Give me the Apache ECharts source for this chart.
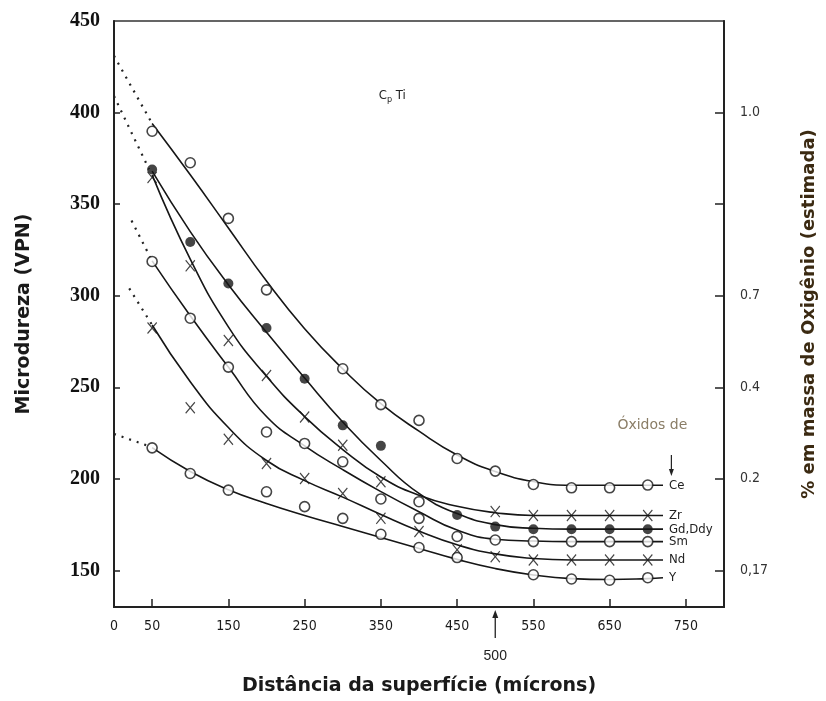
<!DOCTYPE html>
<html><head><meta charset="utf-8">
<script src="https://cdn.jsdelivr.net/npm/echarts@6/dist/echarts.min.js"></script>
<style>html,body{margin:0;padding:0;background:#fff}#c{width:826px;height:701px}</style>
</head><body><div id="c"></div>
<script>
// ---------- data ----------
const pointX = [50,100,150,200,250,300,350,400,450,500,550,600,650,700];
const curveX = [50,100,150,200,250,300,350,400,450,500,550,600,650,700,720];

const cePts = [389.8,372.6,342.2,303.2,null,260.1,240.5,231.9,211.1,204.2,196.9,195.1,195.1,196.6];
const gdPts = [368.9,329.3,306.7,282.4,254.6,229.2,218.0,null,180.2,173.9,172.5,172.5,172.5,172.5];
const zrPts = [364.6,316.3,275.5,256.4,233.8,218.3,198.4,null,null,182.1,180,180,180,180];
const smPts = [318.7,287.7,261.0,225.6,219.3,209.3,189.0,178.4,168.5,166.6,165.7,165.7,165.7,165.7];
const smExtra = [[400,187.5]];
const ndPts = [282.4,238.8,221.6,208.4,200.2,192.0,178.4,171.2,161.2,157.5,155.7,155.7,155.7,155.7];
const yPts  = [216.9,202.9,193.8,192.9,184.8,178.4,169.7,162.5,157.0,null,147.6,145.3,144.6,146.0];

const ceCurve = [394,366,337,308,282,260,241,226,213,204,198.5,196.5,196.5,196.5,196.5];
const gdCurve = [368,335,306,280,255,231,210,192,181,175,173,172.5,172.5,172.5,172.5];
const zrCurve = [366,320,283,256,234,216,201,191,185,181.5,180,180,180,180,180];
const smCurve = [319,289,261,234,218,205,193,182,172,167,166,165.7,165.7,165.7,165.7];
const ndCurve = [284,253,228,210,199,190,180.5,171.5,164,159,156.5,155.7,155.7,155.7,155.7];
const yCurve  = [217,204,194,186.5,180,174,168,162,156,151,147.5,145.5,145,145.5,146];

const ceLead = [[0,431],[50,394]];
const gdLead = [[0,409],[46,369]];
const smLead = [[23,341],[50,319]];
const ndLead = [[20,304],[50,284]];
const yLead  = [[0,224.5],[45,218]];

const seriesNames = ['Ce','Zr','Gd,Ddy','Sm','Nd','Y'];
const xLabelValues = [0,50,150,250,350,450,550,650,750];
const xTickValues = [50,150,250,350,450,550,650,750];
const yLabelValues = [150,200,250,300,350,400,450];
const yTickValues = [150,200,250,300,350,400];
const rightTickValues = [150,200,250,300,350,400];
const rightTickLabels = ['0,17','0.2','0.4','0.7','','1.0'];
const markedDistance = 500;

// ---------- build ----------
const narrow = "'Liberation Sans Narrow','DejaVu Sans Condensed','Liberation Sans',sans-serif";
const ink = '#161616';
const pairs = (xs, ys) => xs.map((x,i)=>[x, ys[i]]).filter(p=>p[1]!=null);
const xSym = 'path://M0,0.8 L0.8,0 L5,4.2 L9.2,0 L10,0.8 L5.8,5 L10,9.2 L9.2,10 L5,5.8 L0.8,10 L0,9.2 L4.2,5 Z';

function curve(name, ys){
  return {type:'line', name, data:pairs(curveX, ys), smooth:0.5, symbol:'none',
    lineStyle:{color:ink, width:1.6}, z:2, silent:true,
    endLabel:{show:true, formatter:p=>p.seriesName, distance:6, color:'#222', fontSize:13, fontFamily:narrow}};
}
function lead(data){
  return {type:'line', data, symbol:'none', lineStyle:{color:'#222', width:2.2, type:[2,6]}, z:2, silent:true};
}
function pts(data, kind){
  const s = {type:'scatter', data, z:5, silent:true};
  if(kind==='open'){ s.symbol='circle'; s.symbolSize=10; s.itemStyle={color:'#fff', borderColor:ink, borderWidth:1.6}; }
  else if(kind==='fill'){ s.symbol='circle'; s.symbolSize=10; s.itemStyle={color:ink}; }
  else { s.symbol=xSym; s.symbolSize=[10,12]; s.itemStyle={color:ink}; }
  return s;
}

const chart = echarts.init(document.getElementById('c'), null, {renderer:'canvas'});
const rightMap = {};
rightTickValues.forEach((v,i)=>rightMap[v]=rightTickLabels[i]);

chart.setOption({
  animation:false,
  backgroundColor:'#fff',
  grid:{left:114, right:99, top:21, bottom:92, show:true, borderColor:'#333', borderWidth:1.5, backgroundColor:'transparent'},
  xAxis:{type:'value', min:0, max:800,
    name:'Distância da superfície (mícrons)', nameLocation:'middle', nameGap:70,
    nameTextStyle:{fontSize:19, fontWeight:'bold', color:'#1a1a1a', fontFamily:"'DejaVu Sans',sans-serif"},
    axisLine:{lineStyle:{color:'#222', width:2}},
    axisTick:{inside:true, length:8, customValues:xTickValues, lineStyle:{color:'#222', width:1.5}},
    axisLabel:{customValues:xLabelValues, fontSize:14, color:'#1a1a1a', margin:12, fontFamily:narrow},
    splitLine:{show:false}},
  yAxis:[
    {type:'value', min:130, max:450, position:'left',
      name:'Microdureza (VPN)', nameLocation:'middle', nameGap:80, nameRotate:90,
      nameTextStyle:{fontSize:19, fontWeight:'bold', color:'#1a1a1a', fontFamily:"'DejaVu Sans',sans-serif"},
      axisLine:{show:true, lineStyle:{color:'#222', width:2}},
      axisTick:{show:true, inside:true, length:6, customValues:yTickValues, lineStyle:{color:'#222', width:1.5}},
      axisLabel:{customValues:yLabelValues, fontSize:20, fontWeight:'bold', color:'#111', margin:14, fontFamily:"'Liberation Serif',serif"},
      splitLine:{show:false}},
    {type:'value', min:130, max:450, position:'right',
      name:'% em massa de Oxigênio (estimada)', nameLocation:'middle', nameGap:76, nameRotate:90,
      nameTextStyle:{fontSize:18, fontWeight:'bold', color:'#3b2a12', fontFamily:"'DejaVu Sans',sans-serif"},
      axisLine:{show:true, lineStyle:{color:'#222', width:2}},
      axisTick:{show:true, inside:true, length:9, customValues:rightTickValues, lineStyle:{color:'#222', width:1.5}},
      axisLabel:{customValues:rightTickValues, formatter:v=>rightMap[v]!==undefined?rightMap[v]:'', fontSize:14, color:'#333', margin:16, fontFamily:narrow},
      splitLine:{show:false}}
  ],
  series:[
    lead(ceLead), lead(gdLead), lead(smLead), lead(ndLead), lead(yLead),
    curve(seriesNames[0], ceCurve),
    curve(seriesNames[1], zrCurve),
    curve(seriesNames[2], gdCurve),
    curve(seriesNames[3], smCurve),
    curve(seriesNames[4], ndCurve),
    curve(seriesNames[5], yCurve),
    pts(pairs(pointX, cePts),'open'),
    pts(pairs(pointX, gdPts),'fill'),
    pts(pairs(pointX, zrPts),'x'),
    pts(pairs(pointX, smPts).concat(smExtra),'open'),
    pts(pairs(pointX, ndPts),'x'),
    pts(pairs(pointX, yPts),'open')
  ]
});

// annotations placed through the axes' scales
const P = (x,y)=>chart.convertToPixel({xAxisIndex:0, yAxisIndex:0}, [x,y]);
const bottomPx = P(0,130)[1];
const mx = P(markedDistance,130)[0];
const cp = P(365,409);
const ox = P(706,229);
const ceArrowTop = P(731,213), ceArrowBot = P(731,201.5);
chart.setOption({graphic:[
  {type:'line', shape:{x1:mx, y1:bottomPx+31, x2:mx, y2:bottomPx+6}, style:{stroke:'#222', lineWidth:1.3}},
  {type:'polygon', shape:{points:[[mx,bottomPx+3],[mx-3,bottomPx+11],[mx+3,bottomPx+11]]}, style:{fill:'#222'}},
  {type:'text', x:mx, y:bottomPx+49, style:{text:String(markedDistance), fontSize:14, fill:'#222', font:"14px "+narrow, align:'center', verticalAlign:'middle'}},
  {type:'line', shape:{x1:ceArrowTop[0], y1:ceArrowTop[1], x2:ceArrowBot[0], y2:ceArrowBot[1]-4}, style:{stroke:'#222', lineWidth:1.2}},
  {type:'polygon', shape:{points:[[ceArrowBot[0],ceArrowBot[1]],[ceArrowBot[0]-2.5,ceArrowBot[1]-7],[ceArrowBot[0]+2.5,ceArrowBot[1]-7]]}, style:{fill:'#222'}},
  {type:'text', x:cp[0], y:cp[1], style:{text:'{a|C}{b|p}{a| Ti}', align:'center', verticalAlign:'middle',
     rich:{a:{fontSize:13, fill:'#222', fontFamily:narrow}, b:{fontSize:9, fill:'#222', fontFamily:narrow, padding:[8,0,0,0]}}}},
  {type:'text', x:ox[0], y:ox[1], style:{text:'Óxidos de', fontSize:14, fill:'#8a7d66', fontFamily:"'DejaVu Sans',sans-serif", align:'center', verticalAlign:'middle'}}
]});
</script>
</body></html>
